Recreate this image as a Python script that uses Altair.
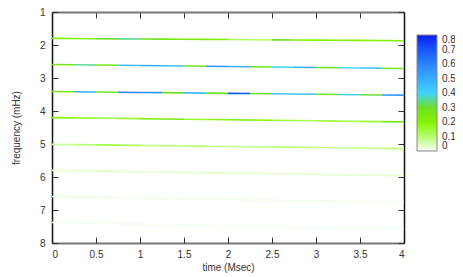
import altair as alt
import pandas as pd

# segment boundaries in time (Msec)
times = [0.0, 0.25, 0.5, 0.75, 1.0, 1.25, 1.5, 1.75, 2.0, 2.25, 2.5, 2.75, 3.0, 3.25, 3.5, 3.75, 4.0]

# frequency (mHz) of each ridge at t=0 and at t=4
freq_start = [1.80, 2.59, 3.41, 4.20, 5.01, 5.80, 6.59, 7.38]
freq_end = [1.87, 2.71, 3.52, 4.33, 5.14, 5.96, 6.77, 7.57]

# intensity along each ridge, one value per time segment
line1 = [0.22, 0.22, 0.30, 0.35, 0.28, 0.25, 0.25, 0.22, 0.12, 0.10, 0.30, 0.20, 0.22, 0.22, 0.20, 0.22]
line2 = [0.25, 0.35, 0.25, 0.45, 0.50, 0.45, 0.28, 0.55, 0.50, 0.28, 0.40, 0.50, 0.28, 0.40, 0.45, 0.25]
line3 = [0.25, 0.50, 0.28, 0.60, 0.55, 0.30, 0.45, 0.28, 0.70, 0.30, 0.45, 0.45, 0.28, 0.40, 0.30, 0.55]
line4 = [0.20, 0.15, 0.12, 0.15, 0.22, 0.25, 0.15, 0.18, 0.25, 0.20, 0.15, 0.12, 0.15, 0.12, 0.15, 0.25]
line5 = [0.07, 0.09, 0.14, 0.11, 0.07, 0.09, 0.11, 0.07, 0.07, 0.09, 0.11, 0.09, 0.07, 0.07, 0.07, 0.09]
line6 = [0.03, 0.03, 0.04, 0.03, 0.025, 0.03, 0.03, 0.04, 0.03, 0.025, 0.025, 0.03, 0.025, 0.025, 0.025, 0.03]
line7 = [0.015, 0.015, 0.015, 0.01, 0.015, 0.015, 0.01, 0.01, 0.015, 0.01, 0.01, 0.01, 0.015, 0.01, 0.01, 0.01]
line8 = [0.005, 0.005, 0.005, 0.005, 0.005, 0.005, 0.005, 0.005, 0.005, 0.005, 0.005, 0.005, 0.005, 0.005, 0.005, 0.005]
intensity = [line1, line2, line3, line4, line5, line6, line7, line8]

x_ticks = [0, 0.5, 1, 1.5, 2, 2.5, 3, 3.5, 4]
y_ticks = [1, 2, 3, 4, 5, 6, 7, 8]
cbar_ticks = [0, 0.1, 0.2, 0.3, 0.4, 0.5, 0.6, 0.7, 0.8]
cbar_colors = ["#f6fff6", "#b4ff6a", "#84f400", "#6ede28", "#40d4ff",
               "#38acff", "#2a84ff", "#1656ff", "#0a1ef0"]

rows = []
for i, (f0, f1, vals) in enumerate(zip(freq_start, freq_end, intensity)):
    for k, v in enumerate(vals):
        ta, tb = times[k], times[k + 1]
        rows.append({
            "line": i, "t0": ta, "t1": tb,
            "f0": f0 + (f1 - f0) * ta / 4.0,
            "f1": f0 + (f1 - f0) * tb / 4.0,
            "v": v,
        })
df = pd.DataFrame(rows)

W, H = 352, 231
FONT = "Liberation Sans"
TXT = "#333333"

xs = alt.Scale(domain=[0, 4], nice=False, zero=False)
ys = alt.Scale(domain=[1, 8], reverse=True, nice=False, zero=False)
cs = alt.Scale(domain=cbar_ticks, range=cbar_colors, type="linear", interpolate="rgb")

base = alt.Chart(df)

main = base.mark_rule(strokeWidth=1.6, strokeCap="butt").encode(
    x=alt.X("t0:Q", scale=xs, title="time (Msec)",
            axis=alt.Axis(orient="bottom", values=x_ticks, format="~g", grid=False,
                          ticks=False, domainColor="#777777", domainWidth=2,
                          labelPadding=6, labelFont=FONT, labelFontSize=10, labelColor=TXT,
                          titleFont=FONT, titleFontSize=10, titleFontWeight="normal",
                          titleColor=TXT, titlePadding=3)),
    x2="t1:Q",
    y=alt.Y("f0:Q", scale=ys, title="frequency (mHz)",
            axis=alt.Axis(orient="left", values=y_ticks, format="~g", grid=False,
                          ticks=False, domainColor="#111111", domainWidth=1.5,
                          labelPadding=7, labelFont=FONT, labelFontSize=10, labelColor=TXT,
                          titleFont=FONT, titleFontSize=10, titleFontWeight="normal",
                          titleColor=TXT, titlePadding=18)),
    y2="f1:Q",
    color=alt.Color("v:Q", scale=cs, title="",
                    legend=alt.Legend(orient="none", legendX=365, legendY=23,
                                      direction="vertical", gradientLength=116,
                                      gradientThickness=20, values=cbar_ticks,
                                      format=".1~f", labelFont=FONT, labelFontSize=10,
                                      labelColor=TXT, labelOverlap=False,
                                      labelBaseline="middle",
                                      gradientStrokeColor="#888888",
                                      gradientStrokeWidth=1, padding=0, labelOffset=5)),
)

# inner ticks: bottom edge (pointing up) and left edge (pointing right)
ticks_a = base.mark_point(opacity=0).encode(
    x=alt.X("t0:Q", scale=xs, title="",
            axis=alt.Axis(orient="top", offset=-H, values=x_ticks, labels=False,
                          domain=False, grid=False, tickSize=6, tickColor="#333333",
                          tickWidth=1)),
    y=alt.Y("f0:Q", scale=ys, title="",
            axis=alt.Axis(orient="right", offset=-W, values=y_ticks, labels=False,
                          domain=False, grid=False, tickSize=6, tickColor="#333333",
                          tickWidth=1)),
)

# inner ticks + border: top edge (pointing down) and right edge (pointing left)
ticks_b = base.mark_point(opacity=0).encode(
    x=alt.X("t0:Q", scale=xs, title="",
            axis=alt.Axis(orient="bottom", offset=-H, values=x_ticks, labels=False,
                          domainColor="#777777", domainWidth=2, grid=False,
                          tickSize=6, tickColor="#333333", tickWidth=1)),
    y=alt.Y("f0:Q", scale=ys, title="",
            axis=alt.Axis(orient="left", offset=-W, values=y_ticks, labels=False,
                          domainColor="#111111", domainWidth=1.5, grid=False,
                          tickSize=6, tickColor="#333333", tickWidth=1)),
)

chart = (
    alt.layer(main, ticks_a, ticks_b)
    .resolve_axis(x="independent", y="independent")
    .properties(width=W, height=H,
                padding={"left": 44, "top": 4, "right": 51, "bottom": 31},
                autosize=alt.AutoSizeParams(type="none"),
                background="white")
    .configure_view(strokeWidth=0)
)

chart.save("out.html", embed_options={"renderer": "svg", "actions": False})
